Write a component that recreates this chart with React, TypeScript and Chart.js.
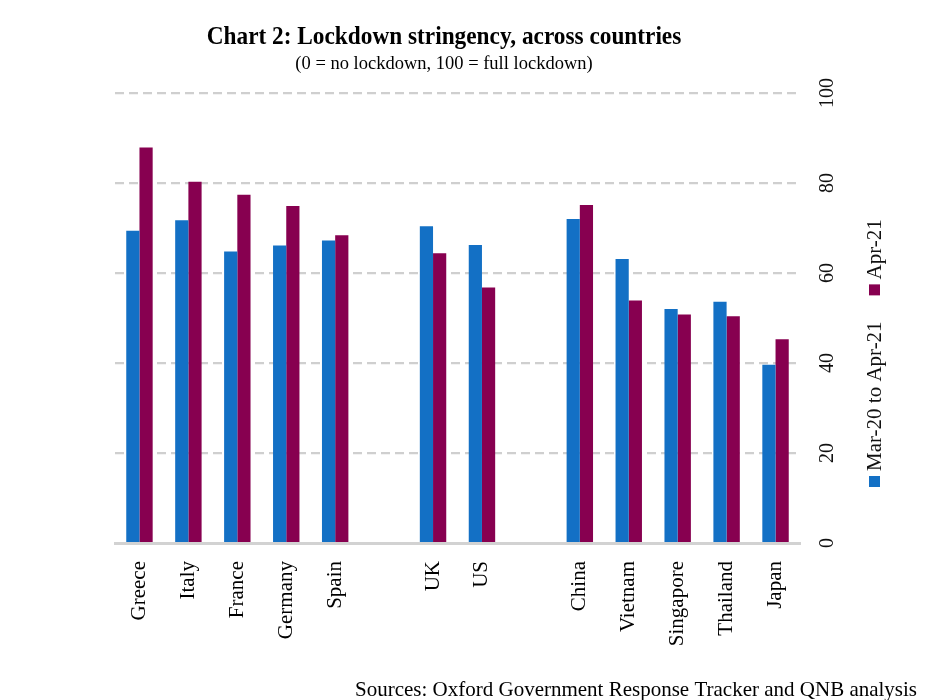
import { useEffect, useRef } from "react";
import { Chart, registerables } from "chart.js";

Chart.register(...registerables);

const categories = ["Greece", "Italy", "France", "Germany", "Spain", "", "UK", "US", "", "China", "Vietnam", "Singapore", "Thailand", "Japan"];
const marToApr = [69.4, 71.7, 64.8, 66.1, 67.2, null, 70.4, 66.2, null, 72.0, 63.1, 52.0, 53.6, 39.6];
const apr21 = [87.9, 80.3, 77.4, 74.9, 68.4, null, 64.4, 56.8, null, 75.1, 53.9, 50.8, 50.4, 45.3];
const yTicks = [0, 20, 40, 60, 80, 100];
const seriesNames = ["Mar-20 to Apr-21", "Apr-21"];
const seriesColors = ["#1370C5", "#870050"];
const titleText = "Chart 2: Lockdown stringency, across countries";
const subtitleText = "(0 = no lockdown, 100 = full lockdown)";
const sourceText = "Sources: Oxford Government Response Tracker and QNB analysis";

const SERIF = '"Liberation Serif", "Times New Roman", serif';

const overlayPlugin = {
  id: "overlay",
  afterDraw(chart: any) {
    const ctx = chart.ctx as CanvasRenderingContext2D;
    ctx.save();
    ctx.fillStyle = "#000";
    // title (slightly taller glyphs like the reference)
    ctx.save();
    ctx.translate(444, 44);
    ctx.scale(1, 1.12);
    ctx.textAlign = "center";
    ctx.textBaseline = "alphabetic";
    ctx.font = `bold 23.3px ${SERIF}`;
    ctx.fillText(titleText, 0, 0);
    ctx.restore();
    ctx.textAlign = "center";
    ctx.textBaseline = "alphabetic";
    ctx.font = `18.5px ${SERIF}`;
    ctx.fillText(subtitleText, 444, 69);
    // source
    ctx.textAlign = "left";
    ctx.font = `21px ${SERIF}`;
    ctx.fillText(sourceText, 355, 696);

    // y tick labels (rotated)
    const y = chart.scales.y;
    ctx.font = `20px ${SERIF}`;
    ctx.fillStyle = "#111";
    for (const v of yTicks) {
      const py = y.getPixelForValue(v);
      ctx.save();
      ctx.translate(833, py);
      ctx.rotate(-Math.PI / 2);
      ctx.textAlign = "center";
      ctx.textBaseline = "alphabetic";
      ctx.fillText(String(v), 0, 0);
      ctx.restore();
    }

    // legend (rotated)
    ctx.save();
    ctx.translate(881, 487);
    ctx.rotate(-Math.PI / 2);
    ctx.font = `21px ${SERIF}`;
    ctx.textAlign = "left";
    ctx.textBaseline = "alphabetic";
    let x = 0;
    seriesNames.forEach((name, i) => {
      ctx.fillStyle = seriesColors[i];
      ctx.fillRect(x, -12, 11, 11);
      x += 16;
      ctx.fillStyle = "#111";
      ctx.fillText(name, x, 0);
      x += ctx.measureText(name).width + 26;
    });
    ctx.restore();

    ctx.restore();
  },
};

export default function App() {
  const ref = useRef<HTMLCanvasElement | null>(null);
  useEffect(() => {
    document.body.style.margin = "0";
    const canvas = ref.current;
    if (!canvas) return;
    const chart = new Chart(canvas, {
      type: "bar",
      data: {
        labels: categories,
        datasets: [
          { label: seriesNames[0], data: marToApr, backgroundColor: seriesColors[0], borderWidth: 0 },
          { label: seriesNames[1], data: apr21, backgroundColor: seriesColors[1], borderWidth: 0 },
        ],
      },
      options: {
        responsive: false,
        animation: false,
        layout: { padding: { top: 93, left: 115, right: 0, bottom: 0 } },
        datasets: { bar: { categoryPercentage: 0.54, barPercentage: 1 } },
        plugins: {
          legend: { display: false },
          title: { display: false },
          tooltip: { enabled: false },
        },
        scales: {
          x: {
            grid: { display: false, drawTicks: false },
            border: { display: true, color: "#d2d2d2", width: 3 },
            ticks: {
              autoSkip: false,
              maxRotation: 90,
              minRotation: 90,
              padding: 18,
              color: "#000",
              font: { family: SERIF, size: 21 },
            },
            afterFit: (s: any) => {
              s.height = 157;
            },
          },
          y: {
            position: "right",
            min: 0,
            max: 100,
            ticks: { stepSize: 20, display: false },
            grid: {
              drawTicks: false,
              lineWidth: 2.2,
              color: (c: any) => (c.tick && c.tick.value === 0 ? "rgba(0,0,0,0)" : "#cfcfcf"),
            },
            border: { display: false, dash: [9, 5] },
            afterFit: (s: any) => {
              s.width = 142;
            },
          },
        },
      },
      plugins: [overlayPlugin],
    });
    return () => chart.destroy();
  }, []);
  return <canvas ref={ref} width={942} height={700} style={{ display: "block", width: 942, height: 700 }} />;
}
